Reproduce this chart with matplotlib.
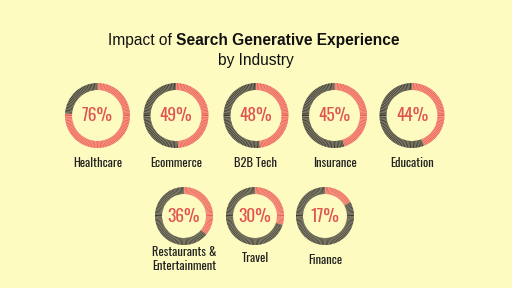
import numpy as np
import matplotlib
matplotlib.use("Agg")
import matplotlib.pyplot as plt

industries = ["Healthcare", "Ecommerce", "B2B Tech", "Insurance", "Education",
              "Restaurants &\nEntertainment", "Travel", "Finance"]
impact = [76, 49, 48, 45, 44, 36, 30, 17]

BG = "#FEFBC0"
RED = "#EE5F5B"
DARK = "#3C3A36"
LABEL_FONT = ["Oswald", "DejaVu Sans"]
TITLE_FONT = ["Liberation Sans", "DejaVu Sans"]

fig = plt.figure(figsize=(5.12, 2.88), dpi=100, facecolor=BG)
ax = fig.add_axes([0, 0, 1, 1])

H = 288
centers = [(97.5, 115.5), (176, 115.5), (256, 115.5), (334.5, 115.5), (412, 115.5),
           (184, 216), (255, 216), (325, 216)]
radii = [32.5] * 5 + [29] * 3
label_y = [163] * 5 + [259, 258, 260]

for (cx, cy), r, v, name, ly in zip(centers, radii, impact, industries, label_y):
    y = H - cy
    ax.pie([v, 100 - v], colors=[RED, DARK], startangle=90, counterclock=False,
           center=(cx, y), radius=r, wedgeprops=dict(width=7, linewidth=0),
           frame=True)
    n = 130
    ang = np.linspace(0, 2 * np.pi, n, endpoint=False)
    r0, r1 = r - 7, r
    for a in ang:
        ax.plot([cx + r0 * np.cos(a), cx + r1 * np.cos(a)],
                [y + r0 * np.sin(a), y + r1 * np.sin(a)],
                color=BG, lw=0.4, alpha=0.55, solid_capstyle="butt")
    ax.text(cx, y, f"{v}%", ha="center", va="center", color="#E05552",
            fontsize=12.5, fontweight="medium", family=LABEL_FONT)
    ax.text(cx, H - ly, name, ha="center", va="center", color="#222222",
            fontsize=9, family=LABEL_FONT, linespacing=1.15)

ax.set_xlim(0, 512)
ax.set_ylim(0, 288)
ax.set_aspect("equal")
ax.axis("off")

fs = 11.2
t1 = ax.text(108, H - 40, "Impact of ", ha="left", va="center", fontsize=fs,
             family=TITLE_FONT, color="#111111")
fig.canvas.draw()
bb = t1.get_window_extent()
x2 = ax.transData.inverted().transform((bb.x1, bb.y0))[0]
ax.text(x2, H - 40, "Search Generative Experience", ha="left", va="center",
        fontsize=fs, fontweight="bold", family=TITLE_FONT, color="#111111")
ax.text(256, H - 61, "by Industry", ha="center", va="center", fontsize=fs,
        family=TITLE_FONT, color="#111111")

fig.savefig("out.png", dpi=100, facecolor=BG)
